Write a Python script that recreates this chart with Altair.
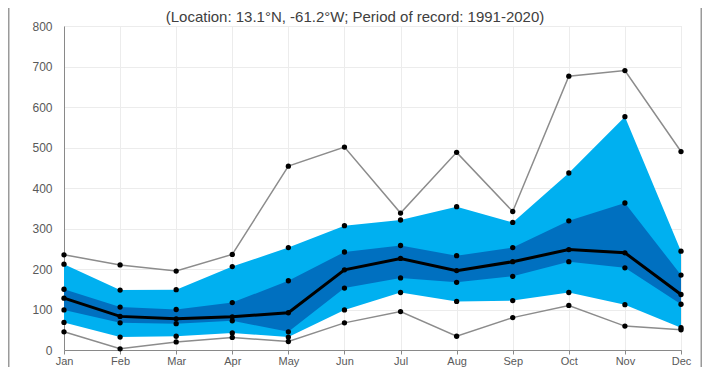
import altair as alt
import pandas as pd

months = ["Jan", "Feb", "Mar", "Apr", "May", "Jun", "Jul", "Aug", "Sep", "Oct", "Nov", "Dec"]
max_vals = [235, 210, 195, 236, 454, 501, 338, 488, 342, 676, 690, 490]
p90_vals = [212, 148, 149, 206, 253, 307, 321, 354, 315, 437, 576, 244]
p75_vals = [150, 106, 100, 117, 171, 242, 258, 233, 253, 319, 363, 185]
median_vals = [128, 83, 77, 82, 92, 198, 226, 196, 218, 248, 240, 137]
p25_vals = [99, 67, 65, 72, 45, 153, 178, 167, 182, 218, 203, 113]
p10_vals = [68, 32, 34, 42, 32, 99, 142, 120, 122, 142, 112, 55]
min_vals = [45, 3, 20, 31, 21, 67, 95, 34, 80, 110, 59, 50]
y_ticks = [0, 100, 200, 300, 400, 500, 600, 700, 800]
subtitle = "(Location: 13.1°N, -61.2°W; Period of record: 1991-2020)"

df = pd.DataFrame({
    "month": months, "mx": max_vals, "p90": p90_vals, "p75": p75_vals,
    "med": median_vals, "p25": p25_vals, "p10": p10_vals, "mn": min_vals,
})
long = df.melt(id_vars="month", var_name="stat", value_name="value")

W, H = 617, 324
PL, PT, PR, PB = 56, 18, 21, 17
FONT = "Liberation Sans"

x_enc = alt.X("month:O", sort=months, title=None,
              scale=alt.Scale(type="point", padding=0),
              axis=alt.Axis(labelAngle=0, ticks=True, tickSize=4, tickColor="#898989",
                            labelPadding=1, grid=True, gridColor="#ececec",
                            domainColor="#898989", labelColor="#595959",
                            labelFontSize=11, labelFont=FONT))
y_scale = alt.Scale(domain=[0, 800], nice=False)
y_axis = alt.Axis(values=y_ticks, ticks=False, labelPadding=12, grid=True,
                  gridColor="#ececec", domainColor="#898989", labelColor="#595959",
                  labelFontSize=12, labelFont=FONT)

base = alt.Chart(df)

outer = base.mark_area(color="#00B0F0", opacity=1).encode(
    x=x_enc, y=alt.Y("p10:Q", scale=y_scale, axis=y_axis, title=None), y2="p90:Q")
inner = base.mark_area(color="#0070C0", opacity=1).encode(
    x=x_enc, y=alt.Y("p25:Q", scale=y_scale, title=None), y2="p75:Q")
max_line = base.mark_line(color="#8c8c8c", strokeWidth=1.5).encode(
    x=x_enc, y=alt.Y("mx:Q", scale=y_scale, title=None))
min_line = base.mark_line(color="#8c8c8c", strokeWidth=1.5).encode(
    x=x_enc, y=alt.Y("mn:Q", scale=y_scale, title=None))
med_line = base.mark_line(color="#000000", strokeWidth=3).encode(
    x=x_enc, y=alt.Y("med:Q", scale=y_scale, title=None))
points = alt.Chart(long).mark_circle(color="#000000", size=28, opacity=1).encode(
    x=x_enc, y=alt.Y("value:Q", scale=y_scale, title=None))

sub = alt.Chart(pd.DataFrame({"t": [subtitle]})).mark_text(
    font=FONT, fontSize=15, color="#404040", align="center", baseline="alphabetic"
).encode(text="t:N", x=alt.value(355 - 8 - PL), y=alt.value(-4))

frame_l = alt.Chart(pd.DataFrame({"a": [0]})).mark_rule(color="#9a9a9a", strokeWidth=1.5).encode(
    x=alt.value(-PL + 0.75), y=alt.value(-PT), y2=alt.value(H + PB))
frame_r = alt.Chart(pd.DataFrame({"a": [0]})).mark_rule(color="#9a9a9a", strokeWidth=1.5).encode(
    x=alt.value(W + PR - 0.75), y=alt.value(-PT), y2=alt.value(H + PB))

chart = alt.layer(outer, inner, max_line, min_line, med_line, points, sub, frame_l, frame_r).properties(
    width=W, height=H,
    autosize=alt.AutoSizeParams(type="none"),
    padding={"left": PL, "top": PT, "right": PR, "bottom": PB},
).configure_view(stroke="#898989", strokeWidth=1).configure(background="white")

chart.save("out.html", embed_options={"renderer": "svg", "actions": False})
